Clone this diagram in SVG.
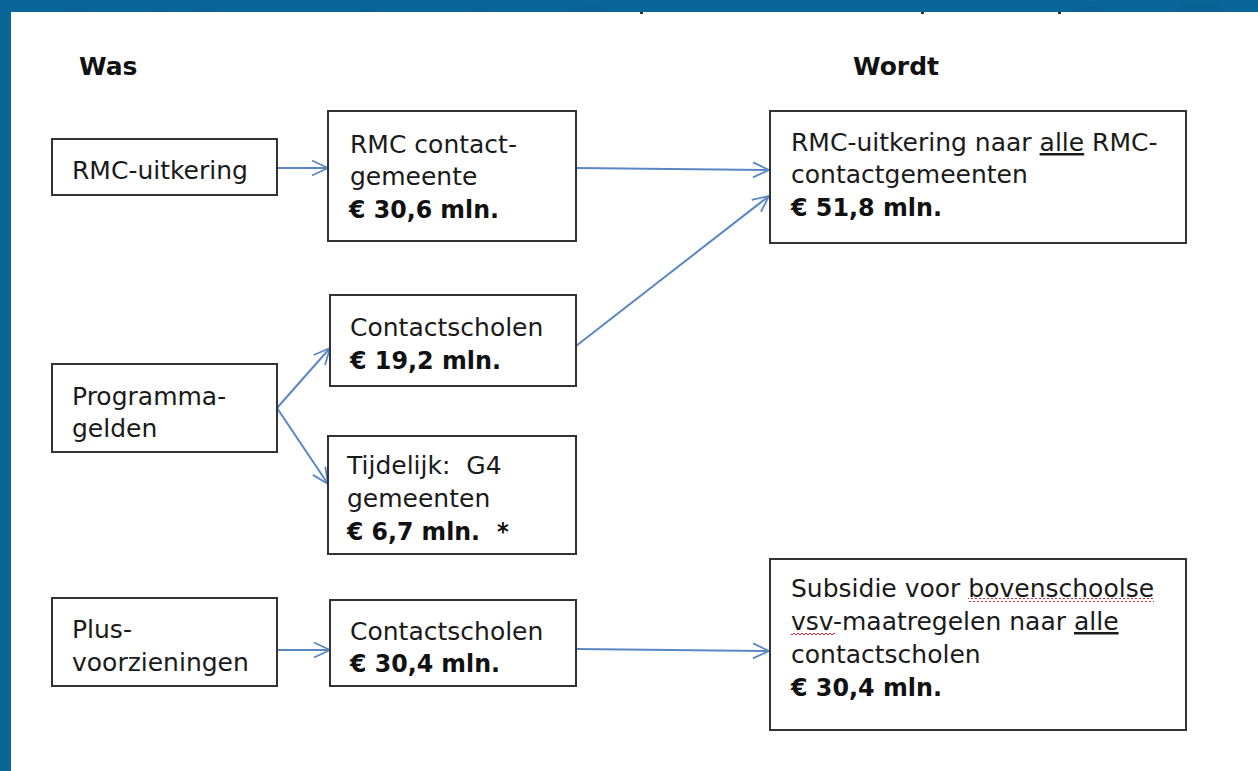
<svg xmlns="http://www.w3.org/2000/svg" width="1258" height="771" viewBox="0 0 1258 771">
  <style>
    .box { fill: #ffffff; stroke: #333333; stroke-width: 2; }
    .t { font-family: "DejaVu Sans", Verdana, sans-serif; font-size: 25px; fill: #1a1a1a; }
    .b { font-family: "DejaVu Sans Condensed", "DejaVu Sans", sans-serif; font-size: 25px; font-weight: bold; fill: #111111; }
    .h { font-family: "DejaVu Sans", Verdana, sans-serif; font-size: 25px; font-weight: bold; fill: #111111; }
    .u { text-decoration: underline; }
    .conn { stroke: #5b87c5; stroke-width: 2; fill: none; }
  </style>
  <defs>
    <marker id="arr" viewBox="0 0 18 18" refX="17" refY="9" markerWidth="18" markerHeight="18" markerUnits="userSpaceOnUse" orient="auto">
      <path d="M1,1.5 L17,9 L1,16.5" fill="none" stroke="#5b87c5" stroke-width="1.8"/>
    </marker>
    <pattern id="wave" x="0" y="0" width="4" height="4" patternUnits="userSpaceOnUse">
      <path d="M0,3 L2,1 L4,3" fill="none" stroke="#e0282a" stroke-width="1"/>
    </pattern>
    <clipPath id="topband"><rect x="0" y="0" width="1258" height="12"/></clipPath>
  </defs>

  <!-- background frame -->
  <rect x="0" y="0" width="1258" height="771" fill="#ffffff"/>
  <rect x="0" y="0" width="1258" height="12" fill="#0a6698"/>
  <rect x="0" y="0" width="11" height="771" fill="#0a6698"/>
  <g clip-path="url(#topband)" fill="#07608f" opacity="0.5">
    <circle cx="75" cy="40" r="32"/>
    <circle cx="160" cy="45" r="35"/>
    <circle cx="205" cy="30" r="22"/>
    <circle cx="370" cy="40" r="30"/>
    <circle cx="480" cy="38" r="28"/>
    <circle cx="590" cy="45" r="40"/>
    <circle cx="1090" cy="42" r="35"/>
    <circle cx="1200" cy="40" r="38"/>
  </g>
  <g fill="#333333">
    <rect x="640" y="12" width="3" height="2"/>
    <rect x="921" y="12" width="3" height="2"/>
    <rect x="1058" y="12" width="3" height="2"/>
  </g>

  <!-- headings -->
  <text class="h" x="79" y="75">Was</text>
  <text class="h" x="853" y="75">Wordt</text>

  <!-- connectors -->
  <g id="connectors">
    <line class="conn" x1="277" y1="168" x2="328" y2="168" marker-end="url(#arr)"/>
    <line class="conn" x1="576" y1="168" x2="769" y2="170" marker-end="url(#arr)"/>
    <line class="conn" x1="576" y1="346" x2="769" y2="196" marker-end="url(#arr)"/>
    <line class="conn" x1="277" y1="408" x2="330" y2="348" marker-end="url(#arr)"/>
    <line class="conn" x1="277" y1="408" x2="328" y2="484" marker-end="url(#arr)"/>
    <line class="conn" x1="277" y1="650" x2="330" y2="650" marker-end="url(#arr)"/>
    <line class="conn" x1="576" y1="649" x2="769" y2="651" marker-end="url(#arr)"/>
  </g>

  <g id="rmc-uitkering">
    <rect class="box" x="52" y="139" width="225" height="56"/>
    <text class="t" x="72" y="179">RMC-uitkering</text>
  </g>

  <g id="rmc-contactgemeente">
    <rect class="box" x="328" y="111" width="248" height="130"/>
    <text class="t" x="350" y="153">RMC contact-</text>
    <text class="t" x="350" y="185">gemeente</text>
    <text class="b" x="349" y="218" textLength="150" lengthAdjust="spacingAndGlyphs">€ 30,6 mln.</text>
  </g>

  <g id="rmc-alle">
    <rect class="box" x="770" y="111" width="416" height="132"/>
    <text class="t" x="791" y="151">RMC-uitkering naar <tspan class="u">alle</tspan> RMC-</text>
    <text class="t" x="791" y="183">contactgemeenten</text>
    <text class="b" x="791" y="216" textLength="151" lengthAdjust="spacingAndGlyphs">€ 51,8 mln.</text>
  </g>

  <g id="programmagelden">
    <rect class="box" x="52" y="364" width="225" height="88"/>
    <text class="t" x="72" y="405">Programma-</text>
    <text class="t" x="72" y="437">gelden</text>
  </g>

  <g id="contactscholen-19">
    <rect class="box" x="330" y="295" width="246" height="91"/>
    <text class="t" x="350" y="336">Contactscholen</text>
    <text class="b" x="350" y="369" textLength="151" lengthAdjust="spacingAndGlyphs">€ 19,2 mln.</text>
  </g>

  <g id="tijdelijk-g4">
    <rect class="box" x="328" y="436" width="248" height="118"/>
    <text class="t" x="347" y="474" xml:space="preserve">Tijdelijk:  G4</text>
    <text class="t" x="347" y="507">gemeenten</text>
    <text class="b" x="347" y="540" textLength="133" lengthAdjust="spacingAndGlyphs">€ 6,7 mln.</text>
    <text class="b" x="497" y="540">*</text>
  </g>

  <g id="plusvoorzieningen">
    <rect class="box" x="52" y="598" width="225" height="88"/>
    <text class="t" x="72" y="638">Plus-</text>
    <text class="t" x="72" y="671">voorzieningen</text>
  </g>

  <g id="contactscholen-30">
    <rect class="box" x="330" y="600" width="246" height="86"/>
    <text class="t" x="350" y="640">Contactscholen</text>
    <text class="b" x="350" y="672" textLength="150" lengthAdjust="spacingAndGlyphs">€ 30,4 mln.</text>
  </g>

  <g id="subsidie">
    <rect class="box" x="770" y="559" width="416" height="171"/>
    <text class="t" x="791" y="597">Subsidie voor bovenschoolse</text>
    <text class="t" x="791" y="630">vsv-maatregelen naar <tspan class="u">alle</tspan></text>
    <text class="t" x="791" y="663">contactscholen</text>
    <text class="b" x="791" y="696" textLength="151" lengthAdjust="spacingAndGlyphs">€ 30,4 mln.</text>
    <rect x="968" y="598" width="186" height="4" fill="url(#wave)"/>
    <rect x="791" y="631" width="44" height="4" fill="url(#wave)"/>
  </g>
</svg>
